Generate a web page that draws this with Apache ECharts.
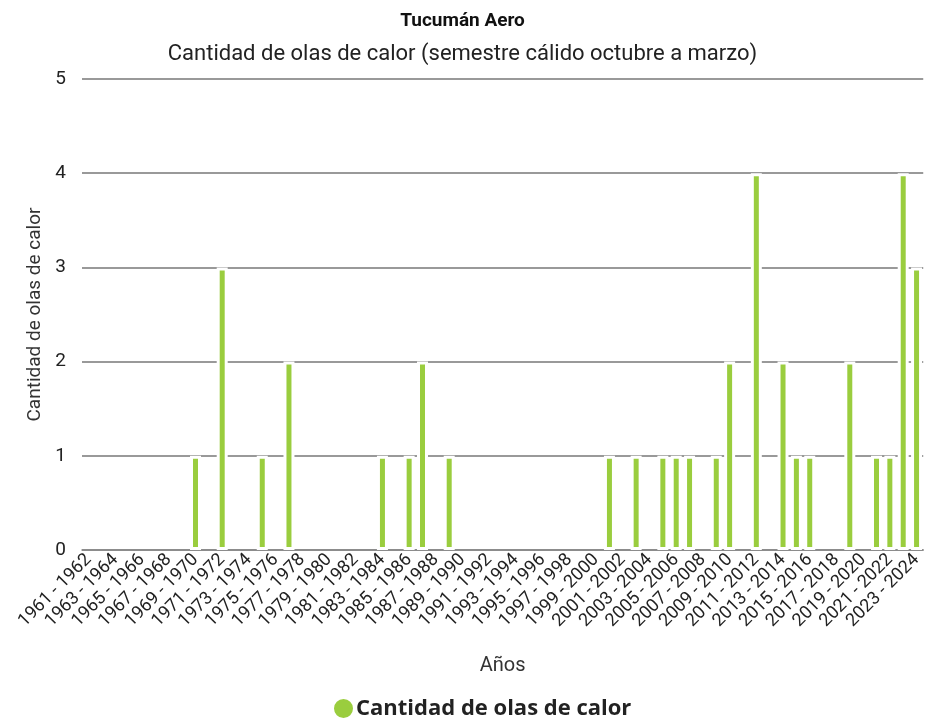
<!DOCTYPE html>
<html>
<head>
<meta charset="utf-8">
<script src="https://cdn.jsdelivr.net/npm/echarts@6/dist/echarts.min.js"></script>
<style>html,body{margin:0;padding:0;background:#fff}#c{width:925px;height:722px}</style>
</head>
<body>
<div id="c"></div>
<script>
const startYears = [];
for (let y = 1961; y <= 2023; y++) startYears.push(y);
const categories = startYears.map(y => y + ' - ' + (y + 1));
const olasCalor = [
  0,0,0,0,0,0,0,0,1,0,   // 1961-1970
  3,0,0,1,0,2,0,0,0,0,   // 1971-1980
  0,0,1,0,1,2,0,1,0,0,   // 1981-1990
  0,0,0,0,0,0,0,0,0,1,   // 1991-2000
  0,1,0,1,1,1,0,1,2,0,   // 2001-2010
  4,0,2,1,1,0,0,2,0,1,   // 2011-2020
  1,4,3                  // 2021-2024
];
const yTicks = [0, 1, 2, 3, 4, 5];

const chart = echarts.init(document.getElementById('c'));
chart.setOption({
  animation: false,
  title: [
    { text: 'Tucumán Aero', left: 'center', top: 7,
      textStyle: { fontFamily: 'Roboto', fontWeight: 'bold', fontSize: 19, color: '#111' } },
    { text: 'Cantidad de olas de calor (semestre cálido octubre a marzo)', left: 'center', top: 38,
      textStyle: { fontFamily: 'Roboto', fontWeight: 'normal', fontSize: 22, color: '#222' } }
  ],
  legend: {
    bottom: -3, left: 327, icon: 'circle', itemWidth: 21, itemHeight: 21, itemGap: 4,
    textStyle: { fontFamily: 'Open Sans', fontWeight: 'bold', fontSize: 22, color: '#222', padding: [0,0,0,-3] },
    data: ['Cantidad de olas de calor']
  },
  grid: { left: 82, right: -4, top: 79, bottom: 172 },
  xAxis: {
    type: 'category', data: categories,
    name: 'Años', nameLocation: 'middle', nameGap: 106,
    nameTextStyle: { fontFamily: 'Roboto', fontSize: 20, color: '#333' },
    axisLine: { lineStyle: { color: '#888', width: 1.5 } },
    axisTick: { alignWithLabel: true, interval: 0, length: 6, lineStyle: { color: '#888' } },
    axisLabel: { interval: 1, rotate: 45, fontFamily: 'Roboto', fontSize: 18, color: '#222', margin: 7 }
  },
  yAxis: {
    type: 'value', min: 0, max: 5, interval: 1,
    name: 'Cantidad de olas de calor', nameLocation: 'middle', nameGap: 35,
    nameTextStyle: { fontFamily: 'Roboto', fontSize: 19, color: '#333' },
    axisLabel: { fontFamily: 'Roboto', fontSize: 19, color: '#222', margin: 16,
      formatter: v => yTicks.includes(v) ? String(v) : '' },
    axisLine: { show: false }, axisTick: { show: false },
    splitLine: { lineStyle: { color: '#999', width: 2 } }
  },
  series: [{
    name: 'Cantidad de olas de calor', type: 'bar',
    data: olasCalor.map(v => v > 0 ? v : { value: v, itemStyle: { borderWidth: 0 } }),
    barWidth: 11,
    itemStyle: { color: '#9acd3e', borderColor: '#fff', borderWidth: 3 }
  }]
});
</script>
</body>
</html>
